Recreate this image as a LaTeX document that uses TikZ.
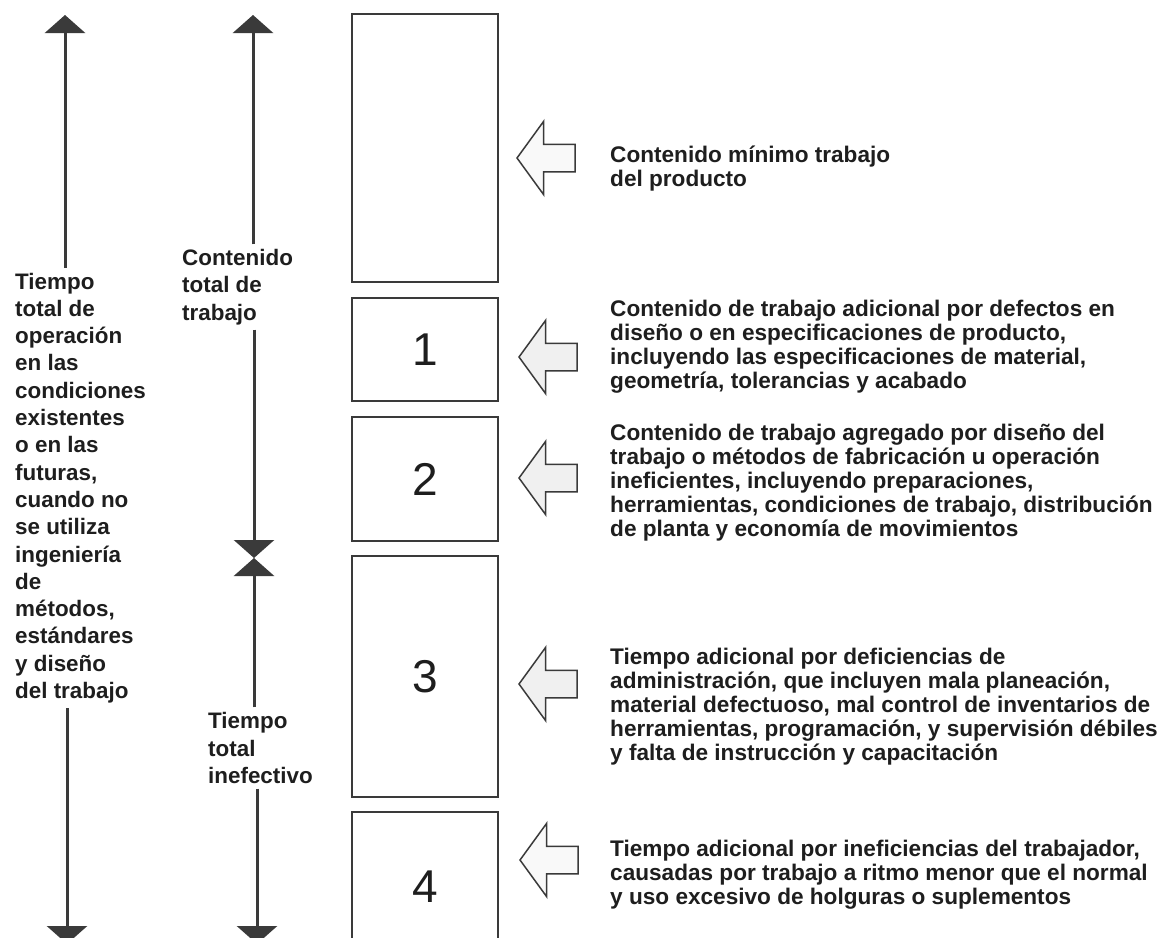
\documentclass[tikz,border=0pt]{standalone}
\usepackage{fontspec}
\setmainfont{Liberation Sans}
\usetikzlibrary{arrows.meta, shapes.arrows, positioning}
\definecolor{ink}{HTML}{3A3A3A}
\definecolor{txt}{HTML}{1E1E1E}
\tikzset{
  etapa/.style={draw=ink, line width=2pt, minimum width=146pt, inner sep=0pt,
    text=txt, font=\fontsize{46}{46}\selectfont},
  flecha/.style={single arrow, shape border rotate=180, draw=ink, line width=1.5pt,
    fill=gray!12, minimum height=58pt, minimum width=72pt, inner sep=13pt,
    single arrow head extend=23pt, single arrow tip angle=108},
  eje/.style={draw=ink, line width=3pt, -{Triangle[width=40pt,length=18pt]}},
  nota/.style={align=left, anchor=west, inner sep=0pt, text=txt,
    font=\fontsize{22.6}{24}\selectfont\bfseries},
  rotulo/.style={align=left, anchor=west, inner sep=0pt, outer ysep=5pt, text=txt,
    font=\fontsize{22.4}{27.3}\selectfont\bfseries}
}
\begin{document}
\begin{tikzpicture}[x=1pt, y=-1pt]
\useasboundingbox (0,0) rectangle (1169,937);
\fill[white] (0,0) rectangle (1169,937);

\node[etapa, minimum height=268pt] (caja0) at (425,148) {};
\node[etapa, minimum height=103pt] (caja1) at (425,349.5) {1};
\node[etapa, minimum height=124pt] (caja2) at (425,479) {2};
\node[etapa, minimum height=241pt] (caja3) at (425,676.5) {3};
\node[etapa, minimum height=150pt] (caja4) at (425,887) {4};

\node[flecha, fill=gray!5] (fl0) at (551,158) {};
\node[flecha] (fl1) at (553,357) {};
\node[flecha] (fl2) at (553,478) {};
\node[flecha] (fl3) at (553,684) {};
\node[flecha, fill=gray!5] (fl4) at (554,860) {};

\node[nota] (t0) at (610,169) {Contenido mínimo trabajo\\del producto};
\node[nota] (t1) at (610,347) {Contenido de trabajo adicional por defectos en\\diseño o en especificaciones de producto,\\incluyendo las especificaciones de material,\\geometría, tolerancias y acabado};
\node[nota] (t2) at (610,483) {Contenido de trabajo agregado por diseño del\\trabajo o métodos de fabricación u operación\\ineficientes, incluyendo preparaciones,\\herramientas, condiciones de trabajo, distribución\\de planta y economía de movimientos};
\node[nota] (t3) at (610,707) {Tiempo adicional por deficiencias de\\administración, que incluyen mala planeación,\\material defectuoso, mal control de inventarios de\\herramientas, programación, y supervisión débiles\\y falta de instrucción y capacitación};
\node[nota] (t4) at (610,875) {Tiempo adicional por ineficiencias del trabajador,\\causadas por trabajo a ritmo menor que el normal\\y uso excesivo de holguras o suplementos};

\node[rotulo] (total) at (15,488) {Tiempo\\total de\\operación\\en las\\condiciones\\existentes\\o en las\\futuras,\\cuando no\\se utiliza\\ingeniería\\de\\métodos,\\estándares\\y diseño\\del trabajo};
\node[rotulo] (contenido) at (182,287) {Contenido\\total de\\trabajo};
\node[rotulo] (inefectivo) at (208,748) {Tiempo\\total\\inefectivo};

\coordinate (izqarriba) at (65,15);
\coordinate (izqabajo) at (67,944);
\coordinate (medarriba) at (253,15);
\coordinate (medio) at (254,558);
\coordinate (medabajo) at (257,944);

\draw[eje] (total.north -| izqarriba) -- (izqarriba);
\draw[eje] (total.south -| izqabajo) -- (izqabajo);
\draw[eje] (contenido.north -| medarriba) -- (medarriba);
\draw[eje] (contenido.south -| medio) -- (medio);
\draw[eje] (inefectivo.north -| medio) -- (medio);
\draw[eje] (inefectivo.south -| medabajo) -- (medabajo);
\end{tikzpicture}
\end{document}
